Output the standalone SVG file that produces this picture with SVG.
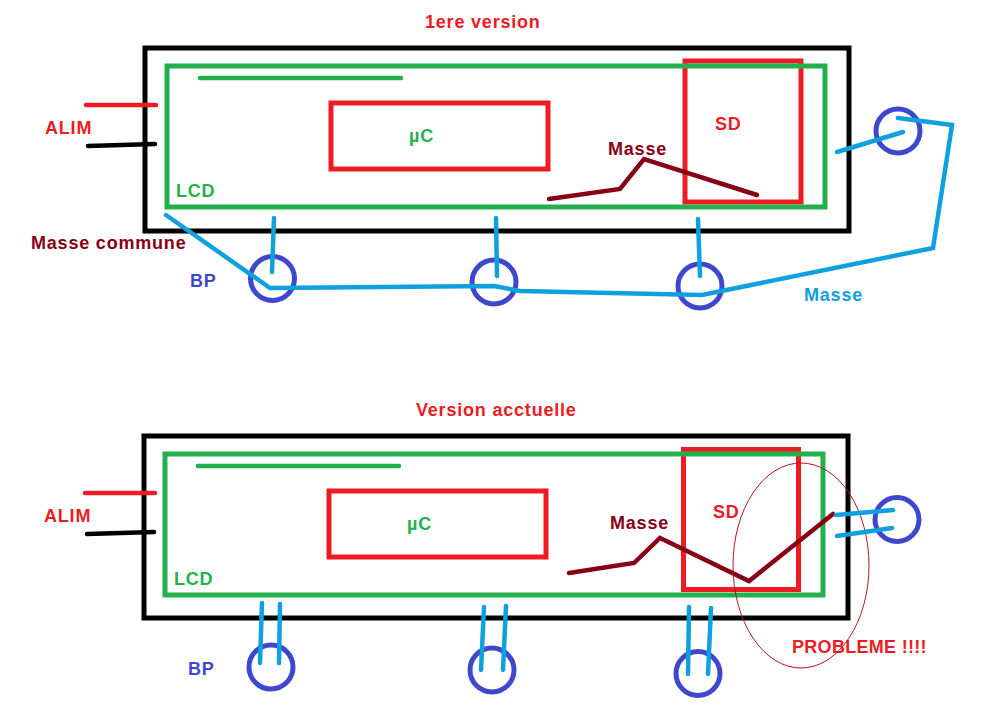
<svg xmlns="http://www.w3.org/2000/svg" width="997" height="716" viewBox="0 0 997 716">
<style>
text{font-family:"Liberation Sans",Arial,sans-serif;font-size:18px;font-weight:bold;letter-spacing:.8px}
.r{fill:#ed1c24}.g{fill:#22b14c}.m{fill:#880015}.b{fill:#3f48cc}.c{fill:#0fa0e0}
.box{fill:none;stroke-width:5}
.k{stroke:#000}.sg{stroke:#22b14c}.sr{stroke:#ed1c24}
.l{fill:none;stroke-width:4.5;stroke-linejoin:miter;stroke-linecap:round}
.lc{stroke:#0fa0e0}.lm{stroke:#880015}.lk{stroke:#000}
.bp{fill:none;stroke:#3f48cc;stroke-width:5}
</style>
<rect width="997" height="716" fill="#fff"/>
<g id="top">
<text x="425" y="28" class="r">1ere version</text>
<rect id="boitier1" class="box k" x="145" y="48" width="704" height="183"/>
<rect id="sd1" class="box sr" x="685" y="61" width="116" height="141"/>
<rect id="lcd1" class="box sg" x="167" y="66" width="658" height="141"/>
<line class="l sg" x1="200" y1="78" x2="401" y2="78"/>
<rect id="uc1" class="box sr" x="331" y="103" width="217" height="66"/>
<text x="409" y="142" class="g">µC</text>
<text x="715" y="130" class="r">SD</text>
<text x="608" y="155" class="m">Masse</text>
<text x="176" y="197" class="g">LCD</text>
<text x="45" y="134" class="r">ALIM</text>
<text x="31" y="249" class="m">Masse commune</text>
<text x="190" y="287" class="b">BP</text>
<text x="804" y="301" class="c">Masse</text>
<line class="l sr" x1="86" y1="105" x2="156" y2="105"/>
<path class="l lk" d="M88 146L155 144"/>
<path class="l lm" d="M549 199L620 189L644 159L757 195"/>
<circle class="bp" cx="272.500" cy="278.500" r="22"/>
<circle class="bp" cx="494" cy="282" r="22"/>
<circle class="bp" cx="700" cy="286" r="22"/>
<circle class="bp" cx="898" cy="131" r="22"/>
</g>
<g id="connectors1">
<path class="l lc" d="M166 215L270 288L494 286L520 291L702 295L933 248L952 125L898 118"/>
<path class="l lc" d="M274 218L272 272M496 218L497 276M698 219L700 276M837 152L903 132"/>
</g>
<g id="bottom">
<text x="416" y="416" class="r">Version acctuelle</text>
<rect id="boitier2" class="box k" x="144" y="436" width="704" height="182"/>
<rect id="sd2" class="box sr" x="683.500" y="449.500" width="115" height="140"/>
<rect id="lcd2" class="box sg" x="165" y="454" width="658" height="141"/>
<line class="l sr" x1="681" y1="589.500" x2="801" y2="589.500" style="stroke-linecap:butt;stroke-width:5"/>
<line class="l sg" x1="198" y1="466" x2="399" y2="466"/>
<rect id="uc2" class="box sr" x="329" y="491" width="217" height="66"/>
<text x="407" y="530" class="g">µC</text>
<text x="713" y="518" class="r">SD</text>
<text x="610" y="529" class="m">Masse</text>
<text x="174" y="585" class="g">LCD</text>
<text x="44" y="522" class="r">ALIM</text>
<text x="188" y="675" class="b">BP</text>
<text x="792" y="653" class="r" style="letter-spacing:.3px">PROBLEME !!!!</text>
<line class="l sr" x1="85" y1="493" x2="155" y2="493"/>
<path class="l lk" d="M87 534L154 532"/>
<path class="l lm" d="M569 573L634 563L660 538L749 581L833 514"/>
<ellipse cx="801" cy="565.500" rx="68" ry="102.500" fill="none" stroke="#b5141c" stroke-width="1"/>
<circle class="bp" cx="271" cy="667" r="22"/>
<circle class="bp" cx="492" cy="670" r="22"/>
<circle class="bp" cx="698" cy="673.500" r="22"/>
<circle class="bp" cx="897" cy="519.500" r="22"/>
</g>
<g id="connectors2">
<path class="l lc" d="M262 603L260 663M280 604L279 663M484 607L481 670M506 606L503 670M689 607L688 674M711 608L708 674M836 515L893 510M837 536L892 528"/>
</g>
</svg>
